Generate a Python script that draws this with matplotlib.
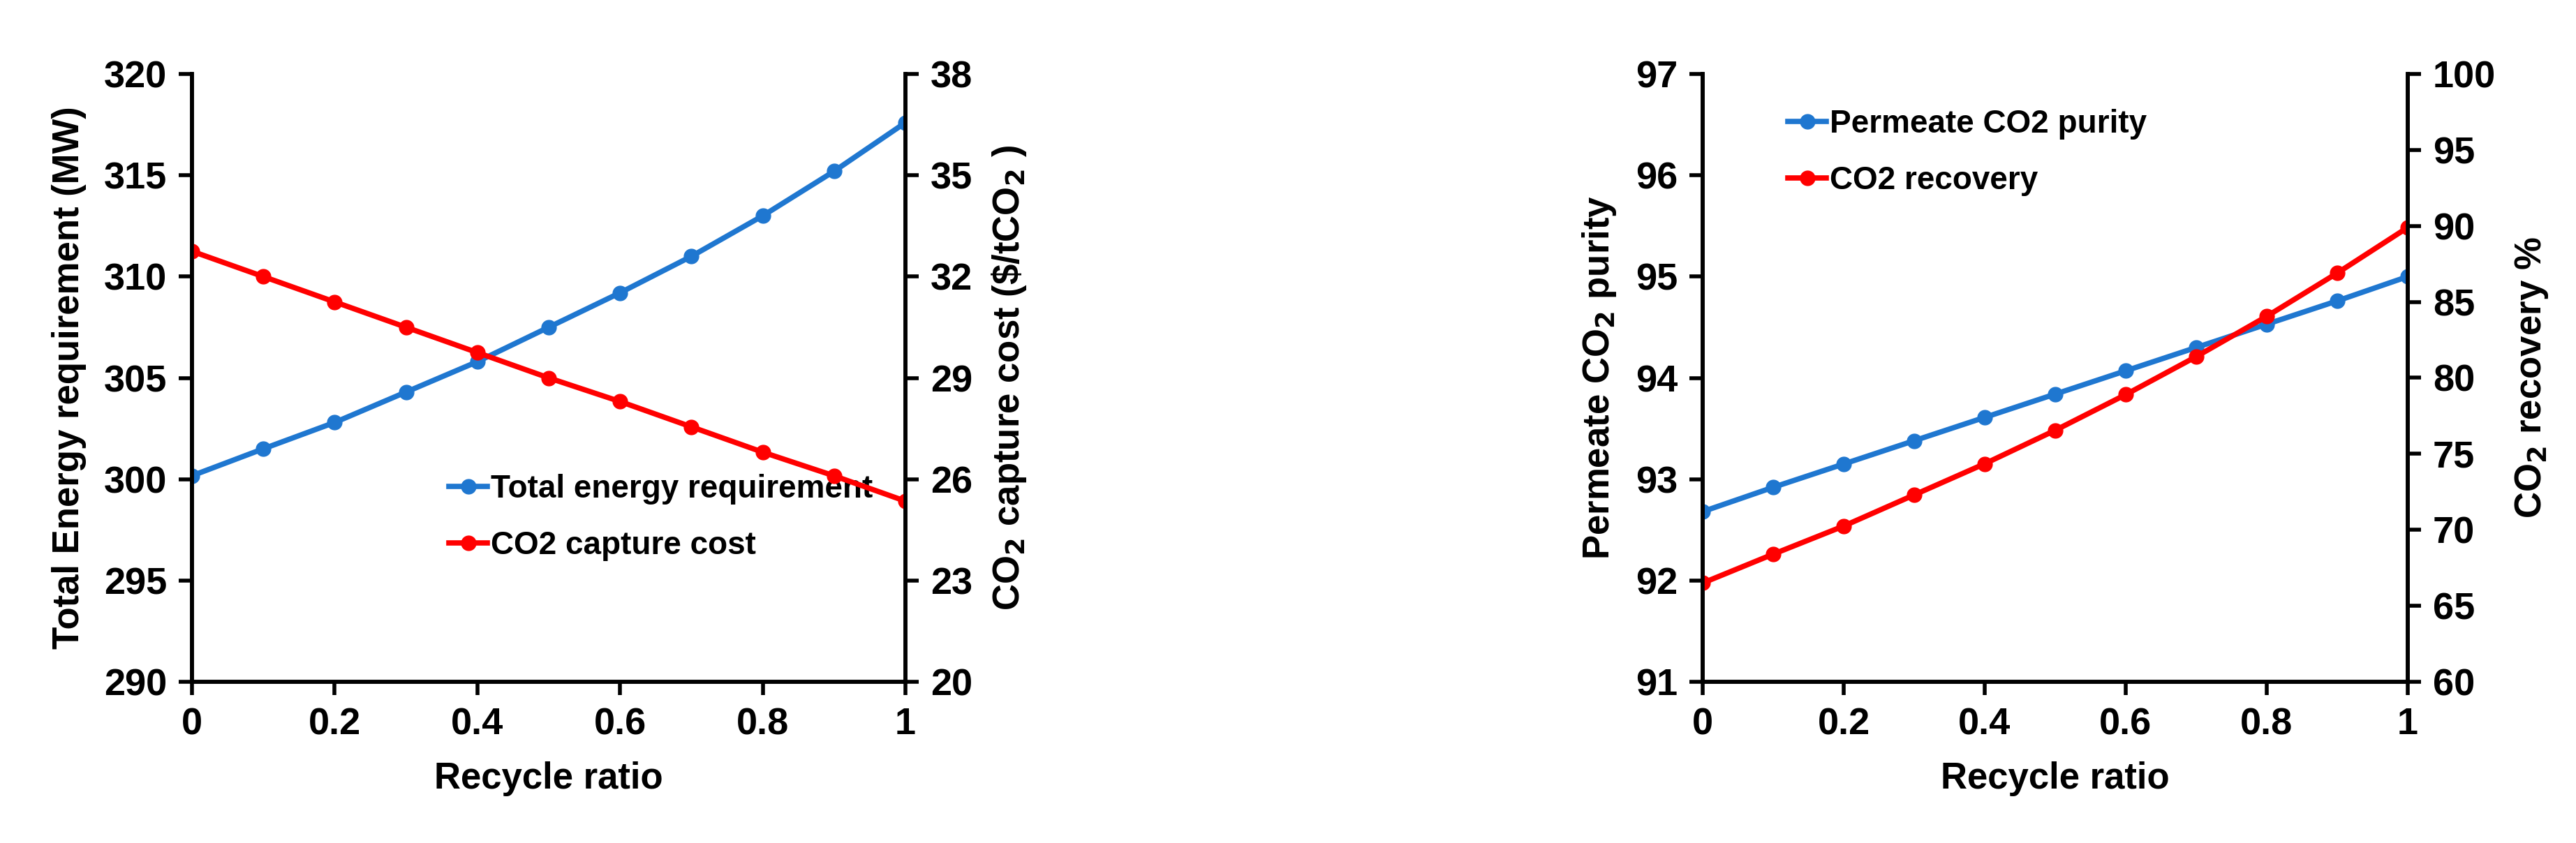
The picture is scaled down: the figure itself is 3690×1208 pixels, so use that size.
import matplotlib.pyplot as plt

recycle = [0, 0.1, 0.2, 0.3, 0.4, 0.5, 0.6, 0.7, 0.8, 0.9, 1.0]
energy = [300.17, 301.5, 302.8, 304.3, 305.8, 307.5, 309.2, 311.0, 313.0, 315.2, 317.6]
capture_cost = [32.75, 32.0, 31.25, 30.5, 29.75, 29.0, 28.3, 27.55, 26.8, 26.1, 25.35]
purity = [92.68, 92.92, 93.15, 93.38, 93.61, 93.84, 94.07, 94.30, 94.53, 94.76, 95.0]
recovery = [66.5, 68.4, 70.25, 72.3, 74.35, 76.55, 78.9, 81.4, 84.05, 86.9, 89.9]

BLUE = '#1f77d0'
RED = '#ff0000'
plt.rcParams['font.family'] = ['Liberation Sans', 'DejaVu Sans']
plt.rcParams['font.weight'] = 'bold'
plt.rcParams['mathtext.default'] = 'bf'

fig = plt.figure(figsize=(36.91, 12.08), dpi=100)
W, H = 3691, 1208
ax1 = fig.add_axes([275 / W, 1 - 977 / H, (1297 - 275) / W, (977 - 106) / H])
ax3 = fig.add_axes([2439 / W, 1 - 977 / H, (3449 - 2439) / W, (977 - 106) / H])

line_kw = dict(lw=5.5, marker='o', ms=15)
tick_kw = dict(labelsize=39, width=4, length=14, direction='out', pad=12)


def style(ax, ax2):
    for a in (ax, ax2):
        for s in a.spines.values():
            s.set_linewidth(4)
        a.spines['top'].set_visible(False)
        a.tick_params(**tick_kw)
        for lbl in a.get_xticklabels() + a.get_yticklabels():
            lbl.set_fontweight('bold')
    ax.set_xlim(0, 1)
    ax.set_xticks([0, 0.2, 0.4, 0.6, 0.8, 1.0])
    ax.set_xticklabels(['0', '0.2', '0.4', '0.6', '0.8', '1'])
    ax.set_xlabel('Recycle ratio', fontsize=38, fontweight='bold', labelpad=20)


# left panel
ax2 = ax1.twinx()
l1, = ax1.plot(recycle, energy, color=BLUE, label='Total energy requirement', **line_kw)
l2, = ax2.plot(recycle, capture_cost, color=RED, label='CO2 capture cost', **line_kw)
ax1.set_ylim(290, 320)
ax1.set_yticks(range(290, 321, 5))
ax2.set_ylim(20, 38)
ax2.set_yticks([20, 23, 26, 29, 32, 35, 38])
ax1.set_ylabel('Total Energy requirement (MW)', fontsize=38, fontweight='bold', labelpad=18)
ax2.set_ylabel(r'CO$_2$ capture cost (\$/tCO$_2$ )', fontsize=38, fontweight='bold', labelpad=18)
style(ax1, ax2)
ax1.legend(handles=[l1, l2], loc='center left', bbox_to_anchor=(0.32, 0.27), frameon=False,
           fontsize=33, handlelength=1.2, handletextpad=0.1, labelspacing=0.8)

# right panel
ax4 = ax3.twinx()
l3, = ax3.plot(recycle, purity, color=BLUE, label='Permeate CO2 purity', **line_kw)
l4, = ax4.plot(recycle, recovery, color=RED, label='CO2 recovery', **line_kw)
ax3.set_ylim(91, 97)
ax3.set_yticks(range(91, 98))
ax4.set_ylim(60, 100)
ax4.set_yticks(range(60, 101, 5))
ax3.set_ylabel(r'Permeate CO$_2$ purity', fontsize=38, fontweight='bold', labelpad=18)
ax4.set_ylabel(r'CO$_2$ recovery %', fontsize=38, fontweight='bold', labelpad=18)
style(ax3, ax4)
ax3.legend(handles=[l3, l4], loc='upper left', bbox_to_anchor=(0.08, 0.99), frameon=False,
           fontsize=33, handlelength=1.2, handletextpad=0.1, labelspacing=0.8)

fig.savefig('out.png', dpi=100)
